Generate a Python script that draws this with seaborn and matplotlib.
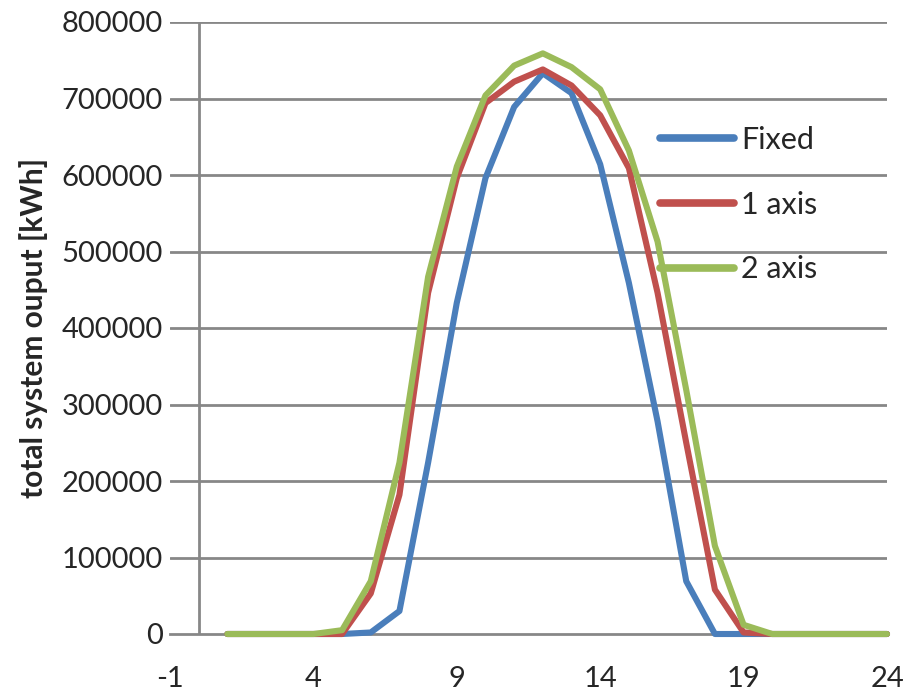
import numpy as np
import pandas as pd
import matplotlib
matplotlib.use("Agg")
import matplotlib.pyplot as plt
import seaborn as sns

# hourly output
hours = list(range(1, 25))
fixed = [0, 0, 0, 0, 0, 2000, 30000, 224000, 433000, 596000, 689000, 733000,
         707000, 614000, 459000, 278000, 69000, 0, 0, 0, 0, 0, 0, 0]
one_axis = [0, 0, 0, 0, 0, 53000, 182000, 446000, 596000, 694000, 722000, 738000,
            717000, 678000, 609000, 446000, 250000, 58000, 2000, 0, 0, 0, 0, 0]
two_axis = [0, 0, 0, 0, 5000, 69000, 224000, 467000, 611000, 704000, 743000, 759000,
            741000, 712000, 632000, 513000, 319000, 115000, 12000, 0, 0, 0, 0, 0]

series_names = ["Fixed", "1 axis", "2 axis"]
colors = {"Fixed": "#4A7EBB", "1 axis": "#C0504D", "2 axis": "#9BBB59"}
x_ticks = [-1, 4, 9, 14, 19, 24]
y_ticks = list(range(0, 800001, 100000))

df = pd.concat([
    pd.DataFrame({"hour": hours, "output": vals, "system": name})
    for name, vals in zip(series_names, [fixed, one_axis, two_axis])
], ignore_index=True)

sns.set_style("white")
plt.rcParams["font.family"] = ["Lato", "DejaVu Sans"]
plt.rcParams["axes.unicode_minus"] = False

grid_col = "#878787"

fig = plt.figure(figsize=(9.08, 6.94), dpi=100)
ax = fig.add_axes([170 / 908, 60 / 694, 717 / 908, 612 / 694])

sns.lineplot(data=df, x="hour", y="output", hue="system", hue_order=series_names,
             palette=colors, linewidth=4.4, ax=ax, legend=False)
for ln in ax.lines:
    ln.set_clip_on(False)
    ln.set_zorder(5)
    ln.set_solid_joinstyle("round")
    ln.set_solid_capstyle("round")

ax.set_xlim(-1, 24)
ax.set_ylim(0, 800000)
ax.set_xticks(x_ticks)
ax.set_yticks(y_ticks)
ax.set_yticklabels([str(v) for v in y_ticks])

for y in y_ticks[1:]:
    ax.axhline(y, color=grid_col, lw=2, zorder=1)
ax.axvline(0, color=grid_col, lw=2, zorder=1)

for s in ["top", "right", "left"]:
    ax.spines[s].set_visible(False)
ax.spines["bottom"].set_color(grid_col)
ax.spines["bottom"].set_linewidth(2)
ax.spines["bottom"].set_zorder(2)

ax.tick_params(axis="x", direction="out", length=6, width=2, color=grid_col,
               labelsize=21, pad=17)
ax.tick_params(axis="y", length=0, labelsize=21, pad=5)

ax.set_xlabel("")
ax.set_ylabel("total system ouput [kWh]", fontsize=21.5, fontweight="bold", labelpad=10)

handles = [plt.Line2D([], [], color=colors[n], lw=5.5, solid_capstyle="round")
           for n in series_names]
ax.legend(handles, series_names, loc="upper left", bbox_to_anchor=(0.667, 0.85),
          frameon=False, fontsize=22, handlelength=2.4, handletextpad=0.25,
          labelspacing=1.2, borderaxespad=0)

fig.savefig("out.png", dpi=100)
